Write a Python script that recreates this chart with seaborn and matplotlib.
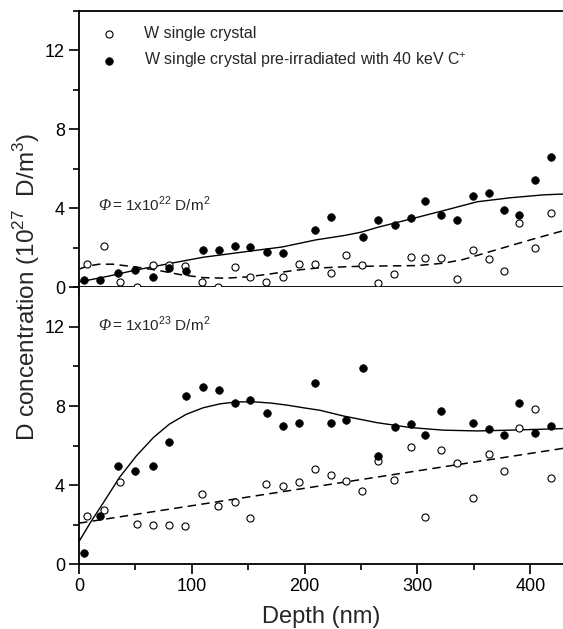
import numpy as np
import pandas as pd
import seaborn as sns
import matplotlib.pyplot as plt
from matplotlib.ticker import MultipleLocator

# ---- data (depth in nm, D concentration in 1e27 D/m^3) ----
# fluence 1e22 D/m^2 (top panel)
top_open_depth = [7, 22, 36, 51, 66, 80, 94, 109, 123, 138, 152, 166, 181, 195, 209,
                  223, 237, 251, 265, 279, 294, 307, 321, 335, 349, 363, 377, 390, 404, 418]
top_open_conc = [1.20, 2.09, 0.28, 0.02, 1.12, 1.12, 1.09, 0.25, 0.02, 1.03, 0.50, 0.25, 0.50, 1.20, 1.20,
                 0.70, 1.64, 1.14, 0.23, 0.67, 1.54, 1.50, 1.49, 0.43, 1.90, 1.44, 0.82, 3.23, 1.99, 3.78]
top_filled_depth = [4, 19, 35, 50, 66, 80, 95, 110, 124, 138, 152, 167, 181,
                    209, 223, 252, 265, 280, 294, 307, 321, 335, 349, 363, 377, 390, 404, 418]
top_filled_conc = [0.38, 0.38, 0.73, 0.90, 0.53, 1.00, 0.82, 1.90, 1.87, 2.09, 2.06, 1.77, 1.76,
                   2.91, 3.56, 2.54, 3.41, 3.13, 3.53, 4.37, 3.66, 3.39, 4.62, 4.77, 3.90, 3.66, 5.44, 6.59]

top_fit_filled_depth = [0, 25, 50, 80, 110, 150, 180, 210, 235, 250, 265, 295, 323, 353, 382, 412, 429]
top_fit_filled_conc = [0.27, 0.55, 0.87, 1.20, 1.52, 1.82, 2.04, 2.40, 2.62, 2.79, 3.04, 3.47, 3.88,
                       4.33, 4.53, 4.68, 4.72]
top_fit_open_depth = [0, 8, 18, 30, 50, 70, 90, 110, 130, 150, 170, 190, 210, 240, 270, 300,
                      323, 340, 355, 370, 385, 400, 415, 429]
top_fit_open_conc = [0.92, 1.08, 1.17, 1.17, 1.03, 0.86, 0.64, 0.49, 0.46, 0.53, 0.68, 0.85, 0.97,
                     1.05, 1.08, 1.10, 1.22, 1.40, 1.65, 1.90, 2.15, 2.40, 2.64, 2.86]

# fluence 1e23 D/m^2 (bottom panel)
bot_open_depth = top_open_depth
bot_open_conc = [2.44, 2.73, 4.15, 2.04, 2.00, 1.97, 1.94, 3.55, 2.94, 3.14, 2.34, 4.07, 3.98, 4.18, 4.83,
                 4.52, 4.22, 3.70, 5.22, 4.25, 5.95, 2.41, 5.79, 5.10, 3.36, 5.59, 4.72, 6.89, 7.83, 4.38]
bot_filled_depth = [4, 19, 35, 50, 66, 80, 95, 110, 124, 138, 152, 167, 181, 195, 209,
                    223, 237, 252, 265, 280, 294, 307, 321, 349, 363, 377, 390, 404, 418]
bot_filled_conc = [0.58, 2.44, 4.97, 4.70, 4.97, 6.16, 8.52, 8.95, 8.82, 8.13, 8.28, 7.63, 7.01, 7.14, 9.17,
                   7.14, 7.28, 9.92, 5.47, 6.96, 7.08, 6.56, 7.76, 7.14, 6.83, 6.56, 8.13, 6.64, 7.01]

bot_fit_filled_depth = [0, 10, 21, 36, 51, 66, 80, 95, 110, 125, 140, 155, 170, 185, 199, 214,
                        234, 264, 294, 323, 353, 382, 412, 429]
bot_fit_filled_conc = [1.15, 2.10, 3.06, 4.40, 5.49, 6.41, 7.08, 7.58, 7.91, 8.11, 8.21, 8.21, 8.15,
                       8.04, 7.91, 7.78, 7.50, 7.16, 6.91, 6.78, 6.74, 6.78, 6.83, 6.86]
bot_fit_open_depth = [0, 429]
bot_fit_open_conc = [2.08, 5.86]

label_open = "W single crystal"
label_filled = "W single crystal pre-irradiated with 40 keV C$^{+}$"
fluence_labels = ["= 1x10$^{22}$ D/m$^{2}$", "= 1x10$^{23}$ D/m$^{2}$"]

sns.set_theme(style="ticks")
plt.rcParams["font.family"] = ["Liberation Sans", "DejaVu Sans"]
plt.rcParams["mathtext.fontset"] = "custom"
plt.rcParams["mathtext.rm"] = "Liberation Sans"
plt.rcParams["axes.edgecolor"] = "black"
plt.rcParams["xtick.color"] = "black"
plt.rcParams["ytick.color"] = "black"

fig = plt.figure(figsize=(5.63, 6.29), dpi=100)
ax_top = fig.add_axes([79 / 563, 1 - 287.3 / 629, 484 / 563, 276.6 / 629])
ax_bot = fig.add_axes([79 / 563, 1 - 564.3 / 629, 484 / 563, 277 / 629], sharex=ax_top)

panels = [
    (ax_top, top_open_depth, top_open_conc, top_filled_depth, top_filled_conc,
     top_fit_open_depth, top_fit_open_conc, top_fit_filled_depth, top_fit_filled_conc, 4.13),
    (ax_bot, bot_open_depth, bot_open_conc, bot_filled_depth, bot_filled_conc,
     bot_fit_open_depth, bot_fit_open_conc, bot_fit_filled_depth, bot_fit_filled_conc, 12.06),
]

for i, (ax, od, oc, fd, fc, lod, loc_, lfd, lfc, ty) in enumerate(panels):
    sns.lineplot(x=lfd, y=lfc, color="black", lw=1.0, ax=ax, sort=False)
    sns.lineplot(x=lod, y=loc_, color="black", lw=1.1, ax=ax, sort=False,
                 dashes=False, linestyle=(0, (5.5, 3.5)))
    sns.scatterplot(x=od, y=oc, marker="o", s=26, facecolor="white", edgecolor="black",
                    linewidth=0.8, ax=ax, label=label_open if i == 0 else None, zorder=3)
    sns.scatterplot(x=fd, y=fc, marker="o", s=30, color="black", edgecolor="black",
                    linewidth=0.5, ax=ax, label=label_filled if i == 0 else None, zorder=4)

    # fluence label: italic serif Phi followed by the value
    phi = ax.text(17, ty, "Φ", fontsize=11.5, family="Liberation Serif", style="italic",
                  va="center", ha="left")
    ax.annotate(fluence_labels[i], xy=(1, 0), xycoords=phi, xytext=(1, 0),
                textcoords="offset points", fontsize=11, va="bottom", ha="left")

    ax.set_xlim(0, 429)
    ax.set_ylim(0, 14)
    ax.yaxis.set_major_locator(MultipleLocator(4))
    ax.yaxis.set_minor_locator(MultipleLocator(2))
    ax.xaxis.set_major_locator(MultipleLocator(100))
    ax.xaxis.set_minor_locator(MultipleLocator(50))
    ax.tick_params(which="major", direction="out", length=7, width=1.2, labelsize=13, pad=3)
    ax.tick_params(which="minor", direction="out", length=4, width=1.2)
    ax.spines["right"].set_visible(False)
    for s in ["left", "bottom", "top"]:
        ax.spines[s].set_linewidth(1.3)
    ax.set_ylabel("")
    ax.set_xlabel("")

ax_top.spines["top"].set_visible(True)
ax_top.tick_params(axis="x", labelbottom=False)
ax_bot.spines["top"].set_visible(False)

leg = ax_top.legend(loc="upper left", bbox_to_anchor=(0.045, 0.945), frameon=False,
                    fontsize=11.5, handlelength=1.0, handletextpad=1.7,
                    labelspacing=0.6, borderpad=0, borderaxespad=0)

ax_bot.set_xlabel("Depth (nm)", fontsize=17, labelpad=8)
fig.text(27 / 563, 1 - 287 / 629, "D concentration (10$^{27}$  D/m$^{3}$)",
         rotation=90, ha="center", va="center", fontsize=17.5)

fig.savefig("out.png", dpi=100)
